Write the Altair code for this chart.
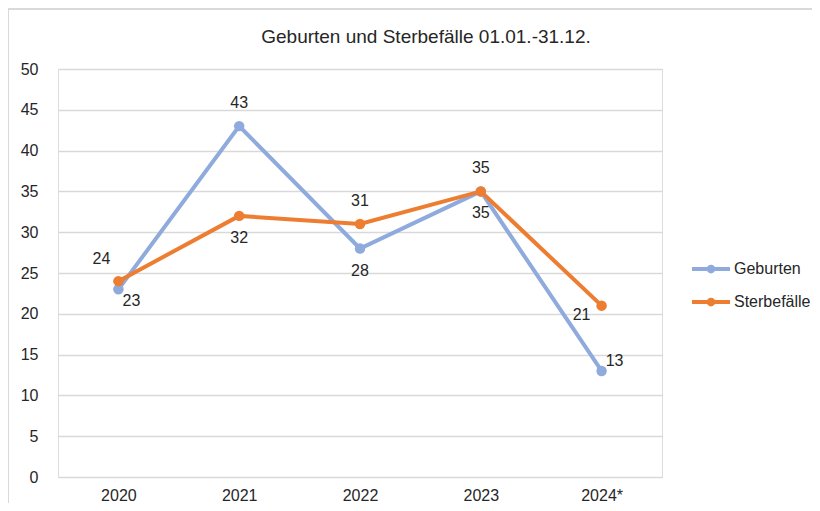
import altair as alt
import pandas as pd

title_text = "Geburten und Sterbefälle 01.01.-31.12."
years = ["2020", "2021", "2022", "2023", "2024*"]
geburten = [23, 43, 28, 35, 13]
sterbefaelle = [24, 32, 31, 35, 21]
series_names = ["Geburten", "Sterbefälle"]
series_colors = ["#8FAADC", "#ED7D31"]
# label placement relative to each point
geburten_pos = ["below_right", "above", "below", "below", "upper_right"]
sterbe_pos = ["upper_left", "below", "above", "above", "lower_left"]

rows = []
for y, v, p in zip(years, geburten, geburten_pos):
    rows.append({"Jahr": y, "Wert": v, "Reihe": series_names[0], "pos": p})
for y, v, p in zip(years, sterbefaelle, sterbe_pos):
    rows.append({"Jahr": y, "Wert": v, "Reihe": series_names[1], "pos": p})
df = pd.DataFrame(rows)

offsets = {
    "below_right": (13, 12),
    "above": (0, -23),
    "below": (0, 22),
    "upper_left": (-17, -22),
    "upper_right": (13, -10),
    "lower_left": (-20, 9),
}

FONT = "Liberation Sans"
TXT = "#262626"

x_enc = alt.X("Jahr:N", sort=years, title=None,
              scale=alt.Scale(paddingInner=0, paddingOuter=0.5),
              axis=alt.Axis(labelAngle=0, domain=False, ticks=False, grid=False,
                            labelPadding=10, labelFontSize=16, labelColor=TXT,
                            labelFont=FONT))
y_enc = alt.Y("Wert:Q", title=None,
              scale=alt.Scale(domain=[0, 50], nice=False),
              axis=alt.Axis(values=list(range(0, 51, 5)), domain=False, ticks=False,
                            gridColor="#d9d9d9", gridWidth=1.5,
                            labelPadding=20, labelFontSize=16, labelColor=TXT,
                            labelFont=FONT))
color_enc = alt.Color("Reihe:N", sort=series_names,
                      scale=alt.Scale(domain=series_names, range=series_colors),
                      legend=alt.Legend(title=None, orient="none", legendX=641.5, legendY=188.5,
                                        symbolType="M-2,0L2,0M0.25,0A0.25,0.25,0,1,1,-0.25,0A0.25,0.25,0,1,1,0.25,0Z",
                                        symbolSize=361, symbolStrokeWidth=4,
                                        labelOffset=11.5, rowPadding=11, padding=0,
                                        labelFontSize=16, labelFont=FONT, labelColor=TXT))

base = alt.Chart(df)

lines = base.mark_line(strokeWidth=4).encode(x=x_enc, y=y_enc, color=color_enc)
points = base.mark_point(filled=True, size=110, opacity=1).encode(
    x=x_enc, y=y_enc,
    color=alt.Color("Reihe:N", scale=alt.Scale(domain=series_names, range=series_colors), legend=None))

label_layers = []
for name, (dx, dy) in offsets.items():
    label_layers.append(
        base.transform_filter(alt.datum.pos == name)
        .mark_text(dx=dx, dy=dy, fontSize=16, font=FONT, color=TXT, baseline="middle", align="center")
        .encode(x=x_enc, y=y_enc, text="Wert:Q")
    )

one = pd.DataFrame({"t": [title_text]})
title_layer = alt.Chart(one).mark_text(fontSize=19, font=FONT, color=TXT, baseline="middle",
                                       align="center").encode(
    x=alt.value(368), y=alt.value(-32), text="t:N")

frame_top = alt.Chart(one).mark_rule(color="#d9d9d9", strokeWidth=2).encode(
    x=alt.value(-50), x2=alt.value(770), y=alt.value(-60))
frame_left = alt.Chart(one).mark_rule(color="#d9d9d9", strokeWidth=2).encode(
    x=alt.value(-50), y=alt.value(-60), y2=alt.value(440))

chart = alt.layer(frame_top, frame_left, title_layer, lines, points, *label_layers).properties(
    width=604, height=408,
    padding={"left": 50, "top": 61, "right": 150, "bottom": 26},
    autosize=alt.AutoSizeParams(type="none"),
).configure_view(stroke=None).configure(background="white")

chart.save("out.html", embed_options={"renderer": "svg", "actions": False})
